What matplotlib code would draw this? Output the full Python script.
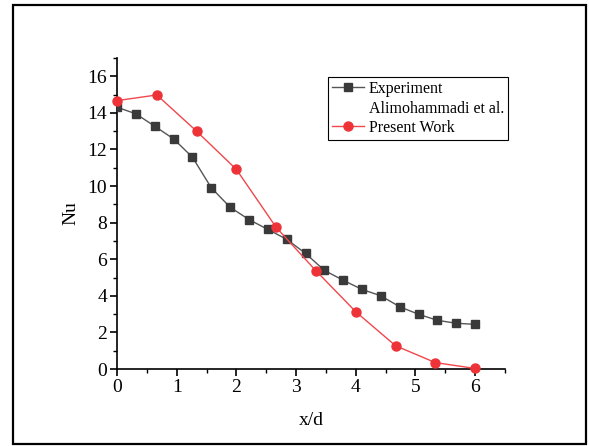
import matplotlib
matplotlib.use("Agg")
import matplotlib.pyplot as plt
from matplotlib.ticker import MultipleLocator
from matplotlib.patches import Rectangle
from matplotlib.lines import Line2D

plt.rcParams['font.family'] = ['Liberation Serif', 'DejaVu Serif']

exp_x = [0.0, 0.316, 0.632, 0.947, 1.263, 1.579, 1.895, 2.211, 2.526, 2.842,
         3.158, 3.474, 3.789, 4.105, 4.421, 4.737, 5.053, 5.368, 5.684, 6.0]
exp_y = [14.31, 13.95, 13.27, 12.58, 11.58, 9.91, 8.84, 8.17, 7.63, 7.09,
         6.32, 5.39, 4.85, 4.35, 4.00, 3.40, 2.99, 2.66, 2.50, 2.44]

pw_x = [0.0, 0.667, 1.333, 2.0, 2.667, 3.333, 4.0, 4.667, 5.333, 6.0]
pw_y = [14.67, 14.98, 13.0, 10.91, 7.74, 5.37, 3.13, 1.27, 0.35, 0.03]

legend_labels = ['Experiment', 'Alimohammadi et al.', 'Present Work']

fig = plt.figure(figsize=(5.89, 4.46), dpi=100)
ax = fig.add_axes([117/589, 1-369/446, (505-117)/589, (369-58)/446])

h1, = ax.plot(exp_x, exp_y, color='#555555', lw=1.0, marker='s', ms=5.5,
              mfc='#3a3a3a', mec='#3a3a3a', zorder=3)
h2, = ax.plot(pw_x, pw_y, color='#f0474b', lw=1.0, marker='o', ms=6.5,
              mfc='#ee3338', mec='#ee3338', zorder=4, clip_on=False)
blank = Line2D([], [], linestyle='none', marker='none')

ax.set_xlim(0, 6.5)
ax.set_ylim(0, 17)
ax.xaxis.set_major_locator(MultipleLocator(1))
ax.xaxis.set_minor_locator(MultipleLocator(0.5))
ax.yaxis.set_major_locator(MultipleLocator(2))
ax.yaxis.set_minor_locator(MultipleLocator(1))
ax.spines['top'].set_visible(False)
ax.spines['right'].set_visible(False)
for s in ['left', 'bottom']:
    ax.spines[s].set_linewidth(1.2)
ax.tick_params(which='major', direction='out', length=5, width=1.2, labelsize=14, pad=2)
ax.tick_params(which='minor', direction='out', length=3, width=1.0)

ax.set_xlabel('x/d', fontsize=14, labelpad=12)
ax.set_ylabel('Nu', fontsize=14, labelpad=6)

leg = ax.legend([h1, blank, h2], legend_labels, loc='upper left',
                bbox_to_anchor=((328-117)/388, (369-77)/311),
                fontsize=11.5, frameon=True, fancybox=False, edgecolor='black',
                framealpha=1, borderpad=0.25, handlelength=2.0, handletextpad=0.3,
                labelspacing=0.22, borderaxespad=0)
leg.get_frame().set_linewidth(0.8)

fig.patches.append(Rectangle((13/589, 2/446), (586-13)/589, (444-5)/446,
                             transform=fig.transFigure, fill=False,
                             edgecolor='black', lw=1.6))

fig.savefig('out.png', dpi=100)
